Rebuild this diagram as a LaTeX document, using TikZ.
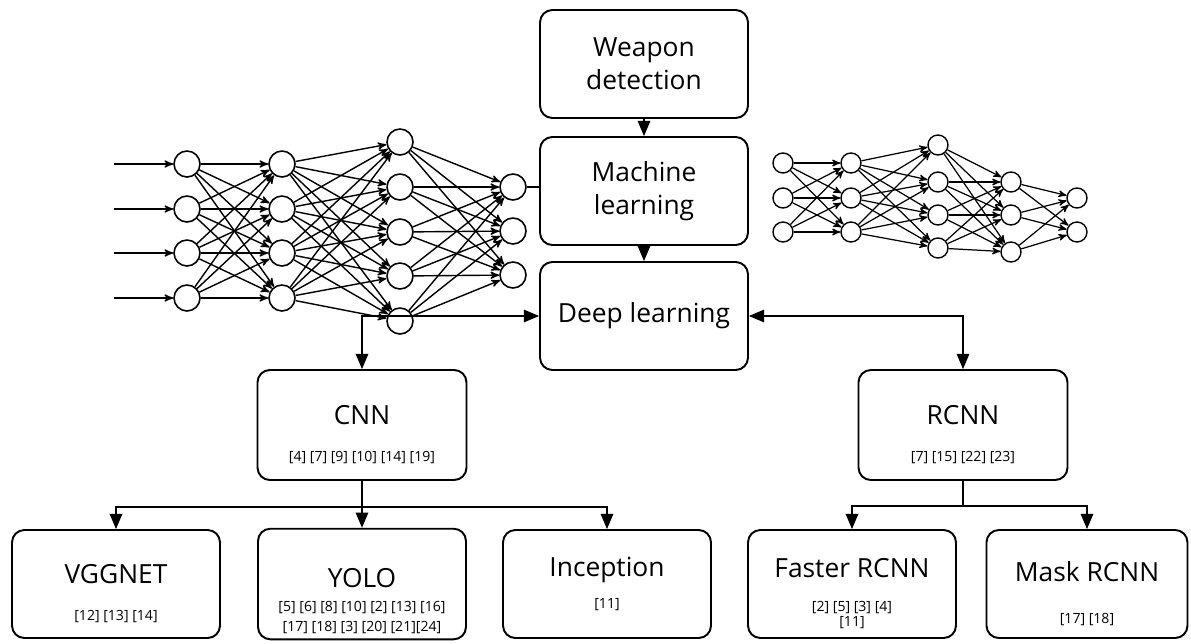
\documentclass[tikz,border=0pt]{standalone}
\usepackage{fontspec}
\setmainfont{Open Sans}
\usetikzlibrary{shapes,arrows,positioning}

\newcommand{\ttlfont}{\fontsize{15}{19}\selectfont}
\newcommand{\reffont}{\fontsize{8}{10}\selectfont}
\newcommand{\lift}[1][22pt]{\rule{0pt}{#1}} % keeps the title in the upper half of a box

\begin{document}
\begin{tikzpicture}[%
    x=0.02cm, y=-0.02cm,        % one unit is one pixel of the layout
    >=triangle 45,              % Filled heads for the flow arrows
    line width=1pt,
    ]
% -------------------------------------------------
% Box and network styles
\tikzset{
  box/.style={draw, rounded corners=7pt, align=center, minimum width=4.16cm,
    minimum height=2.16cm, font=\ttlfont, line width=1.1pt},
  neuron/.style={draw, circle, fill=white, inner sep=0pt, minimum size=5.2mm, line width=0.9pt},
  smallneuron/.style={neuron, minimum size=4mm, line width=0.8pt},
  link/.style={->, >=stealth', line width=0.8pt},
  thinlink/.style={->, >=stealth', line width=0.7pt},
  flow/.style={->, line width=1pt},
}
\useasboundingbox (0,0) rectangle (1191,643);
% -------------------------------------------------
% Main flow boxes
\node [box] (wd) at (644,64) {Weapon\\detection};
\node [box] (ml) at (644,191) {Machine\\learning};
\node [box] (dl) at (644,316) {Deep learning};

\node [box, minimum width=4.18cm, minimum height=2.2cm] (cnn) at (362,425)
  {\lift CNN\\[2pt]\reffont [4] [7] [9] [10] [14] [19]};
\node [box, minimum width=4.18cm, minimum height=2.2cm] (rcnn) at (963,425)
  {\lift RCNN\\[2pt]\reffont [7] [15] [22] [23]};

\node [box] (vgg) at (116,584) {\lift VGGNET\\[2pt]\reffont [12] [13] [14]};
\node [box] (yolo) at (362,584)
  {\lift[30pt]YOLO\\[-5pt]\reffont [5] [6] [8] [10] [2] [13] [16]\\[-8pt]\reffont [17] [18] [3] [20] [21][24]};
\node [box] (inc) at (607,584) {Inception\\[-1pt]\reffont [11]};
\node [box] (frcnn) at (852,584)
  {\lift Faster RCNN\\[0pt]\reffont [2] [5] [3] [4]\\[-10pt]\reffont [11]};
\node [box, minimum width=4.02cm] (mrcnn) at (1087,584) {\lift Mask RCNN\\[5pt]\reffont [17] [18]};

% -------------------------------------------------
% Left network: 4-4-5-3 neurons
\foreach \y [count=\i] in {164,209,253,298} {
  \node [neuron] (a1-\i) at (187,\y) {};
  \node [neuron] (a2-\i) at (282,\y) {};
  \coordinate (in\i) at (114,\y);
  \draw [link] (in\i) -- (a1-\i);
}
\foreach \y [count=\i] in {142,187,232,276,321}
  \node [neuron] (a3-\i) at (400,\y) {};
\foreach \y [count=\i] in {187,231,275}
  \node [neuron] (a4-\i) at (513,\y) {};

\foreach \i in {1,...,4}
  \foreach \j in {1,...,4}
    \draw [link] (a1-\i) -- (a2-\j);
\foreach \i in {1,...,4}
  \foreach \j in {1,...,5}
    \draw [link] (a2-\i) -- (a3-\j);
\foreach \i in {1,...,5}
  \foreach \j in {1,...,3}
    \draw [link] (a3-\i) -- (a4-\j);

% Right network: 3-3-4-3-2 neurons
\foreach \y [count=\i] in {163,198,232} {
  \node [smallneuron] (b1-\i) at (783,\y) {};
  \node [smallneuron] (b2-\i) at (851,\y) {};
}
\foreach \y [count=\i] in {145,182,215,248}
  \node [smallneuron] (b3-\i) at (938,\y) {};
\foreach \y [count=\i] in {182,215,252}
  \node [smallneuron] (b4-\i) at (1011,\y) {};
\foreach \y [count=\i] in {198,232}
  \node [smallneuron] (b5-\i) at (1077,\y) {};

\foreach \i in {1,...,3}
  \foreach \j in {1,...,3}
    \draw [thinlink] (b1-\i) -- (b2-\j);
\foreach \i in {1,...,3}
  \foreach \j in {1,...,4}
    \draw [thinlink] (b2-\i) -- (b3-\j);
\foreach \i in {1,...,4}
  \foreach \j in {1,...,3}
    \draw [thinlink] (b3-\i) -- (b4-\j);
\foreach \i in {1,...,3}
  \foreach \j in {1,...,2}
    \draw [thinlink] (b4-\i) -- (b5-\j);

% -------------------------------------------------
% Connectors between the boxes
\draw [flow] (wd) -- (ml);
\draw [flow] (ml) -- (dl);
\draw (a4-1) -- (a4-1 -| ml.west);
\draw [flow, <->] (cnn.north) |- (dl.west);
\draw [flow, <->] (rcnn.north) |- (dl.east);

\coordinate (cnnfork) at (362,507);
\draw [flow] (cnn) -- (yolo);
\draw [flow] (cnnfork) -| (vgg);
\draw [flow] (cnnfork) -| (inc);

\coordinate (rcnnfork) at (963,506);
\draw (rcnn) -- (rcnnfork);
\draw [flow] (rcnnfork) -| (frcnn);
\draw [flow] (rcnnfork) -| (mrcnn);
% -------------------------------------------------
\end{tikzpicture}
\end{document}
